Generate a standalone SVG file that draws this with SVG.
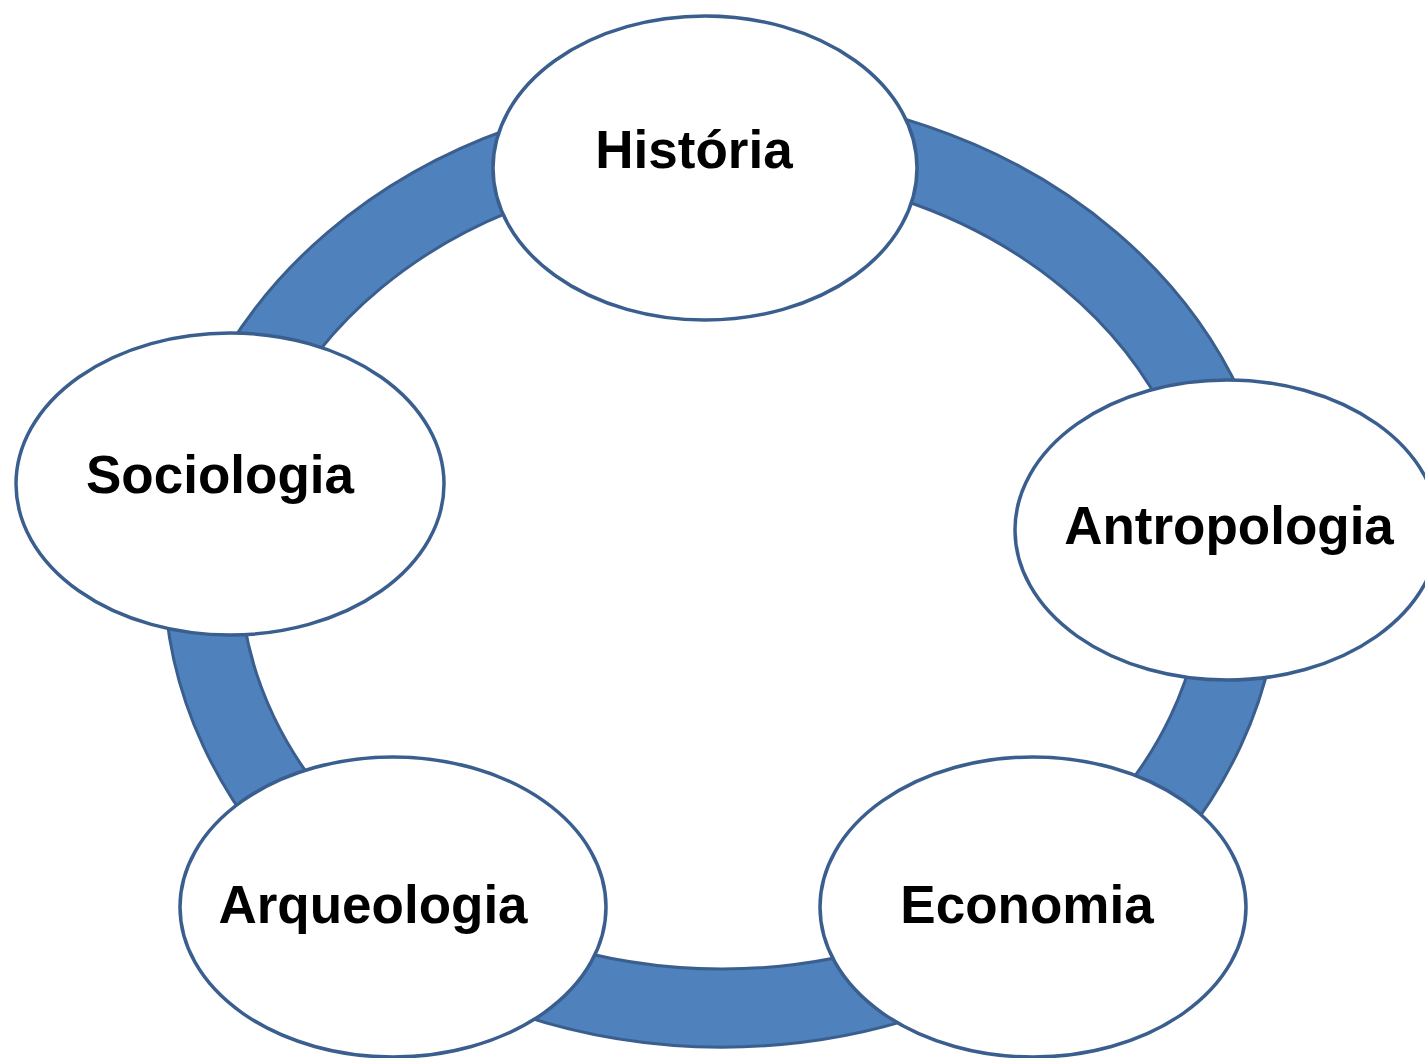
<svg xmlns="http://www.w3.org/2000/svg" width="1425" height="1058" viewBox="0 0 1425 1058">
<style>
.node ellipse{fill:#ffffff;stroke:#3A5F8F;stroke-width:3.5}
.node text{font-family:"Liberation Sans",Arial,sans-serif;font-weight:bold;font-size:53px;fill:#000000;text-anchor:middle}
.ring{fill:#4F81BD;stroke:#3A5F8F;stroke-width:3;fill-rule:evenodd}
</style>
<rect width="1425" height="1058" fill="#ffffff"/>
<g id="connectors">
<path class="ring" d="M164,570 A558,477 0 1,0 1280,570 A558,477 0 1,0 164,570 Z M240,570 A482,399 0 1,1 1204,570 A482,399 0 1,1 240,570 Z"/>
</g>
<g id="node-historia" class="node">
<ellipse cx="705" cy="168" rx="212" ry="152"/>
<text x="694" y="168">História</text>
</g>
<g id="node-antropologia" class="node">
<ellipse cx="1227" cy="530" rx="212" ry="150"/>
<text x="1229" y="544">Antropologia</text>
</g>
<g id="node-economia" class="node">
<ellipse cx="1033" cy="907" rx="213" ry="150"/>
<text x="1027" y="923">Economia</text>
</g>
<g id="node-arqueologia" class="node">
<ellipse cx="393" cy="907" rx="213" ry="150"/>
<text x="373" y="923">Arqueologia</text>
</g>
<g id="node-sociologia" class="node">
<ellipse cx="230" cy="484" rx="214" ry="151"/>
<text x="220" y="493">Sociologia</text>
</g>
</svg>
